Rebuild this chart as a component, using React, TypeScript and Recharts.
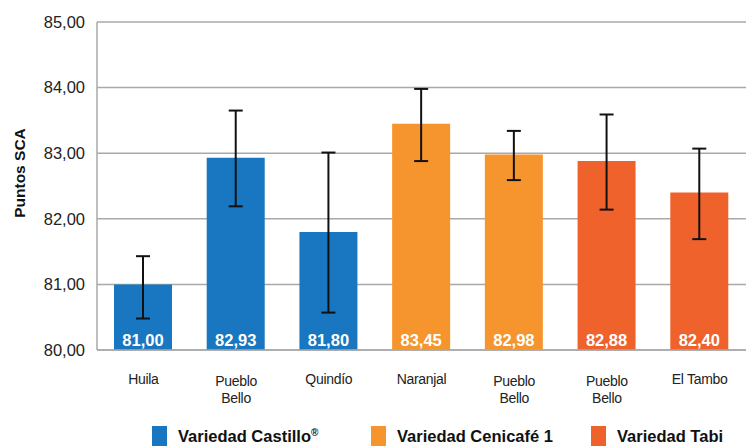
import { BarChart, Bar, Cell, XAxis, YAxis, CartesianGrid, ErrorBar, LabelList } from 'recharts';

const categories = ['Huila', 'Pueblo Bello', 'Quindío', 'Naranjal', 'Pueblo Bello', 'Pueblo Bello', 'El Tambo'];
const varieties = ['Castillo', 'Castillo', 'Castillo', 'Cenicafe', 'Cenicafe', 'Tabi', 'Tabi'];
const scores = [81.0, 82.93, 81.8, 83.45, 82.98, 82.88, 82.4];
// [below, above] read from the whiskers
const errors: [number, number][] = [
  [0.52, 0.43],
  [0.74, 0.72],
  [1.23, 1.21],
  [0.57, 0.53],
  [0.39, 0.36],
  [0.74, 0.71],
  [0.71, 0.67],
];
const yTicks = [80, 81, 82, 83, 84, 85];

const colors: Record<string, string> = {
  Castillo: '#1877c0',
  Cenicafe: '#f6952d',
  Tabi: '#f0622c',
};

const legendItems = [
  { key: 'Castillo', label: 'Variedad Castillo', sup: '®', left: 152 },
  { key: 'Cenicafe', label: 'Variedad Cenicafé 1', sup: '', left: 371 },
  { key: 'Tabi', label: 'Variedad Tabi', sup: '', left: 591 },
];

const data = categories.map((name, i) => ({
  name,
  variety: varieties[i],
  value: scores[i],
  err: errors[i],
}));

const fmt = (v: number) => v.toFixed(2).replace('.', ',');

function CategoryTick({ x, y, payload }: any) {
  const twoLine = payload.value === 'Pueblo Bello';
  const parts: string[] = twoLine ? payload.value.split(' ') : [payload.value];
  return (
    <g>
      {parts.map((p, i) => (
        <text
          key={i}
          x={x}
          y={y + (twoLine ? 28 : 26) + i * 17}
          textAnchor="middle"
          fill="#222"
          fontSize={14}
          letterSpacing={-0.3}
          fontFamily="Liberation Sans, Arial, sans-serif"
        >
          {p}
        </text>
      ))}
    </g>
  );
}

export default function App() {
  return (
    <div style={{ position: 'absolute', left: 0, top: 0, width: 746, height: 446, background: '#fff', fontFamily: 'Liberation Sans, Arial, sans-serif' }}>
      <BarChart
        width={746}
        height={446}
        data={data}
        margin={{ top: 22, right: 0, left: 0, bottom: 36 }}
        barSize={58}
      >
        <CartesianGrid vertical={false} stroke="#a9a9a9" strokeWidth={1.5} />
        <XAxis
          dataKey="name"
          interval={0}
          height={60}
          tickLine={false}
          axisLine={{ stroke: '#a9a9a9', strokeWidth: 1.5 }}
          tick={<CategoryTick />}
        />
        <YAxis
          domain={[80, 85]}
          ticks={yTicks}
          width={97}
          tickLine={false}
          axisLine={{ stroke: '#a9a9a9', strokeWidth: 1.5 }}
          tickFormatter={fmt}
          tick={{ fill: '#222', fontSize: 16.5, fontFamily: 'Liberation Sans, Arial, sans-serif' }}
          tickMargin={6}
          label={{
            content: () => (
              <text
                x={25}
                y={173}
                transform="rotate(-90 25 173)"
                textAnchor="middle"
                fill="#111"
                fontSize={15.5}
                fontWeight="bold"
                fontFamily="Liberation Sans, Arial, sans-serif"
              >
                Puntos SCA
              </text>
            ),
          }}
        />
        <Bar dataKey="value" isAnimationActive={false}>
          {data.map((d, i) => (
            <Cell key={i} fill={colors[d.variety]} />
          ))}
          <ErrorBar dataKey="err" width={7} stroke="#111" strokeWidth={2} direction="y" />
          <LabelList
            dataKey="value"
            position="insideBottom"
            offset={4}
            formatter={(v: any) => fmt(Number(v))}
            fill="#fff"
            fontSize={16.5}
            fontWeight="bold"
            fontFamily="Liberation Sans, Arial, sans-serif"
          />
        </Bar>
      </BarChart>
      {legendItems.map((it) => (
        <div
          key={it.key}
          style={{ position: 'absolute', top: 426, left: it.left, display: 'flex', alignItems: 'center', fontSize: 16.5, lineHeight: '19px', fontWeight: 'bold', color: '#111', whiteSpace: 'nowrap' }}
        >
          <span style={{ display: 'inline-block', width: 15, height: 20, background: colors[it.key], marginRight: 11 }} />
          <span>
            {it.label}
            {it.sup && <sup style={{ fontSize: 10, lineHeight: 0 }}>{it.sup}</sup>}
          </span>
        </div>
      ))}
    </div>
  );
}
